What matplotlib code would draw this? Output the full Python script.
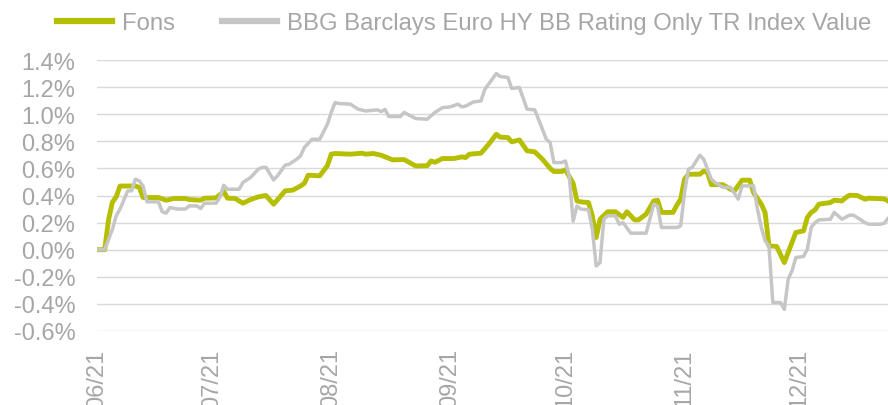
"""
Fons vs BBG Barclays Euro HY BB index: cumulative return line chart
"""

import matplotlib.dates as mdates
import matplotlib.pyplot as plt
import matplotlib.ticker as mticker
import pandas as pd

plt.rcParams["font.family"] = ["Liberation Sans", "DejaVu Sans"]

# ─────────────────────────────────────────────
# data (% return since start)
# ─────────────────────────────────────────────
FONS_DATES = [
    "2021-06-01", "2021-06-03", "2021-06-04", "2021-06-05", "2021-06-06",
    "2021-06-07", "2021-06-11", "2021-06-12", "2021-06-13", "2021-06-17",
    "2021-06-19", "2021-06-21", "2021-06-24", "2021-06-25", "2021-06-28",
    "2021-06-29", "2021-07-02", "2021-07-04", "2021-07-05", "2021-07-07",
    "2021-07-09", "2021-07-11", "2021-07-13", "2021-07-15", "2021-07-17",
    "2021-07-20", "2021-07-22", "2021-07-24", "2021-07-25", "2021-07-26",
    "2021-07-29", "2021-07-31", "2021-08-01", "2021-08-02", "2021-08-06",
    "2021-08-09", "2021-08-10", "2021-08-12", "2021-08-14", "2021-08-17",
    "2021-08-20", "2021-08-23", "2021-08-26", "2021-08-27", "2021-08-28",
    "2021-08-30", "2021-09-02", "2021-09-04", "2021-09-05", "2021-09-06",
    "2021-09-09", "2021-09-11", "2021-09-13", "2021-09-14", "2021-09-16",
    "2021-09-17", "2021-09-19", "2021-09-21", "2021-09-23", "2021-09-25",
    "2021-09-27", "2021-09-28", "2021-09-30", "2021-10-01", "2021-10-03",
    "2021-10-04", "2021-10-05", "2021-10-07", "2021-10-08", "2021-10-09",
    "2021-10-10", "2021-10-12", "2021-10-14", "2021-10-16", "2021-10-17",
    "2021-10-19", "2021-10-20", "2021-10-22", "2021-10-24", "2021-10-25",
    "2021-10-26", "2021-10-29", "2021-10-30", "2021-10-31", "2021-11-01",
    "2021-11-02", "2021-11-05", "2021-11-06", "2021-11-07", "2021-11-08",
    "2021-11-11", "2021-11-13", "2021-11-14", "2021-11-16", "2021-11-18",
    "2021-11-19", "2021-11-21", "2021-11-22", "2021-11-23", "2021-11-25",
    "2021-11-27", "2021-11-28", "2021-11-30", "2021-12-02", "2021-12-03",
    "2021-12-04", "2021-12-05", "2021-12-06", "2021-12-09", "2021-12-10",
    "2021-12-12", "2021-12-13", "2021-12-14", "2021-12-16", "2021-12-18",
    "2021-12-19", "2021-12-23", "2021-12-24",
]
FONS_VALUES = [
    0.00, 0.00, 0.22, 0.35, 0.39,
    0.47, 0.47, 0.46, 0.385, 0.385,
    0.365, 0.378, 0.378, 0.37, 0.365,
    0.38, 0.382, 0.43, 0.38, 0.378,
    0.343, 0.37, 0.39, 0.40, 0.336,
    0.434, 0.44, 0.47, 0.49, 0.55,
    0.545, 0.62, 0.705, 0.71, 0.705,
    0.712, 0.705, 0.71, 0.697, 0.663,
    0.665, 0.618, 0.62, 0.655, 0.645,
    0.673, 0.673, 0.685, 0.68, 0.705,
    0.712, 0.778, 0.852, 0.83, 0.828,
    0.796, 0.81, 0.73, 0.722, 0.668,
    0.60, 0.577, 0.577, 0.59, 0.49,
    0.36, 0.353, 0.348, 0.25, 0.09,
    0.225, 0.28, 0.28, 0.238, 0.28,
    0.22, 0.22, 0.262, 0.36, 0.365,
    0.275, 0.275, 0.328, 0.373, 0.52,
    0.557, 0.557, 0.58, 0.57, 0.48,
    0.48, 0.446, 0.434, 0.513, 0.513,
    0.42, 0.336, 0.274, 0.028, 0.024,
    -0.095, -0.02, 0.127, 0.139, 0.238,
    0.275, 0.294, 0.336, 0.348, 0.365,
    0.36, 0.385, 0.402, 0.40, 0.373,
    0.38, 0.375, 0.36,
]

BBG_DATES = [
    "2021-06-01", "2021-06-03", "2021-06-05", "2021-06-06", "2021-06-07",
    "2021-06-09", "2021-06-10", "2021-06-11", "2021-06-12", "2021-06-13",
    "2021-06-14", "2021-06-17", "2021-06-18", "2021-06-19", "2021-06-20",
    "2021-06-22", "2021-06-24", "2021-06-25", "2021-06-27", "2021-06-28",
    "2021-06-29", "2021-07-02", "2021-07-03", "2021-07-04", "2021-07-05",
    "2021-07-08", "2021-07-09", "2021-07-11", "2021-07-13", "2021-07-14",
    "2021-07-15", "2021-07-17", "2021-07-18", "2021-07-20", "2021-07-21",
    "2021-07-23", "2021-07-24", "2021-07-25", "2021-07-27", "2021-07-29",
    "2021-07-31", "2021-08-01", "2021-08-02", "2021-08-03", "2021-08-06",
    "2021-08-08", "2021-08-10", "2021-08-13", "2021-08-14", "2021-08-15",
    "2021-08-16", "2021-08-19", "2021-08-20", "2021-08-23", "2021-08-26",
    "2021-08-28", "2021-08-30", "2021-09-01", "2021-09-03", "2021-09-04",
    "2021-09-05", "2021-09-07", "2021-09-09", "2021-09-10", "2021-09-13",
    "2021-09-14", "2021-09-16", "2021-09-17", "2021-09-19", "2021-09-21",
    "2021-09-23", "2021-09-25", "2021-09-26", "2021-09-27", "2021-09-28",
    "2021-09-30", "2021-10-01", "2021-10-02", "2021-10-03", "2021-10-04",
    "2021-10-05", "2021-10-07", "2021-10-08", "2021-10-09", "2021-10-10",
    "2021-10-11", "2021-10-12", "2021-10-14", "2021-10-15", "2021-10-16",
    "2021-10-18", "2021-10-22", "2021-10-23", "2021-10-24", "2021-10-25",
    "2021-10-26", "2021-10-30", "2021-10-31", "2021-11-01", "2021-11-02",
    "2021-11-03", "2021-11-05", "2021-11-06", "2021-11-08", "2021-11-09",
    "2021-11-11", "2021-11-13", "2021-11-15", "2021-11-16", "2021-11-19",
    "2021-11-20", "2021-11-21", "2021-11-22", "2021-11-23", "2021-11-24",
    "2021-11-26", "2021-11-27", "2021-11-28", "2021-11-29", "2021-11-30",
    "2021-12-02", "2021-12-03", "2021-12-04", "2021-12-05", "2021-12-06",
    "2021-12-09", "2021-12-10", "2021-12-12", "2021-12-14", "2021-12-15",
    "2021-12-18", "2021-12-19", "2021-12-22", "2021-12-23", "2021-12-24",
]
BBG_VALUES = [
    0.00, 0.00, 0.15, 0.25, 0.30,
    0.434, 0.434, 0.52, 0.508, 0.47,
    0.353, 0.353, 0.28, 0.27, 0.311,
    0.30, 0.30, 0.323, 0.323, 0.304,
    0.343, 0.343, 0.385, 0.476, 0.446,
    0.446, 0.496, 0.533, 0.594, 0.607,
    0.607, 0.515, 0.545, 0.624, 0.63,
    0.668, 0.692, 0.754, 0.815, 0.815,
    0.926, 1.013, 1.086, 1.079, 1.074,
    1.037, 1.024, 1.032, 1.02, 1.035,
    0.983, 0.983, 1.013, 0.968, 0.963,
    1.013, 1.049, 1.054, 1.074, 1.054,
    1.06, 1.09, 1.098, 1.184, 1.30,
    1.278, 1.271, 1.19, 1.197, 1.037,
    1.032, 0.889, 0.815, 0.791, 0.643,
    0.643, 0.655, 0.54, 0.21, 0.323,
    0.30, 0.294, 0.151, -0.12, -0.095,
    0.225, 0.25, 0.25, 0.188, 0.20,
    0.122, 0.122, 0.23, 0.336, 0.32,
    0.164, 0.164, 0.176, 0.42, 0.594,
    0.607, 0.697, 0.668, 0.52, 0.496,
    0.46, 0.46, 0.373, 0.471, 0.471,
    0.30, 0.164, 0.065, 0.028, -0.39,
    -0.39, -0.44, -0.218, -0.156, -0.058,
    -0.05, 0.004, 0.164, 0.20, 0.22,
    0.225, 0.275, 0.225, 0.255, 0.255,
    0.20, 0.188, 0.188, 0.195, 0.23,
]

SERIES_NAMES = ["Fons", "BBG Barclays Euro HY BB Rating Only TR Index Value"]
Y_TICKS = [-0.6, -0.4, -0.2, 0.0, 0.2, 0.4, 0.6, 0.8, 1.0, 1.2, 1.4]

GREEN = "#B5BE00"
GREY_LINE = "#C6C6C6"
TEXT = "#A6A6A6"
GRID = "#D9D9D9"


def main():
    fons_x = pd.to_datetime(FONS_DATES)
    bbg_x = pd.to_datetime(BBG_DATES)

    fig = plt.figure(figsize=(8.88, 4.06), dpi=100)
    ax = fig.add_axes([97 / 888, 74 / 406, 791 / 888, 271 / 406])

    ax.plot(fons_x, FONS_VALUES, color=GREEN, lw=3.5, label=SERIES_NAMES[0],
            solid_joinstyle="round")
    ax.plot(bbg_x, BBG_VALUES, color=GREY_LINE, lw=2.5, label=SERIES_NAMES[1],
            solid_joinstyle="round")

    # axes
    ax.set_ylim(-0.6, 1.4)
    ax.set_yticks(Y_TICKS)
    ax.yaxis.set_major_formatter(mticker.FuncFormatter(lambda v, _: f"{v:.1f}%"))
    ax.set_xlim(fons_x[0], fons_x[-1])
    ax.xaxis.set_major_locator(mdates.MonthLocator())
    ax.xaxis.set_major_formatter(mdates.DateFormatter("%m/%y"))
    ax.grid(axis="y", color=GRID, lw=1.0)
    ax.set_axisbelow(True)
    for s in ax.spines.values():
        s.set_visible(False)
    ax.tick_params(axis="y", length=0, pad=15.5, labelsize=17, labelcolor=TEXT)
    ax.tick_params(axis="x", length=0, pad=12.5, labelsize=17, labelcolor=TEXT,
                   labelrotation=90)

    # legend
    leg = fig.legend(
        loc="center left",
        bbox_to_anchor=(57 / 888, 1 - 24 / 406),
        ncol=2,
        frameon=False,
        fontsize=17.2,
        handlelength=2.3,
        handletextpad=0.42,
        columnspacing=1.95,
        borderpad=0,
        borderaxespad=0,
    )
    for t in leg.get_texts():
        t.set_color(TEXT)
    for h in leg.legend_handles:
        h.set_linewidth(4.5)

    fig.savefig("out.png", dpi=100)
    plt.close(fig)


if __name__ == "__main__":
    main()
